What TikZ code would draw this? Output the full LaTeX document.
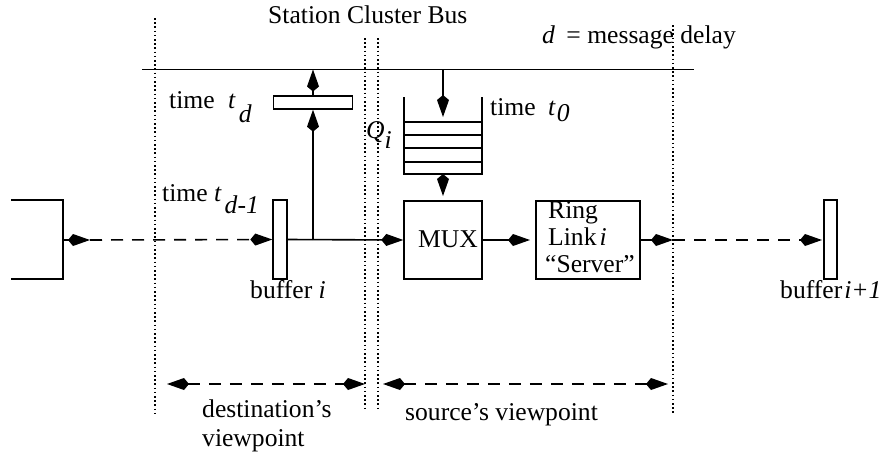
\documentclass[tikz,border=0pt]{standalone}
\usepackage{fontspec}
\setmainfont{Liberation Serif}
\usetikzlibrary{arrows.meta}
\begin{document}
\begin{tikzpicture}[x=1pt,y=-1pt,
  txt/.style={inner sep=0pt, anchor=base west, font=\fontsize{25.6}{29}\selectfont},
  boxs/.style={draw, line width=1.4pt, inner sep=0pt},
  wire/.style={line width=1.6pt},
  dashwire/.style={wire, dash pattern=on 12pt off 9pt},
  guide/.style={line width=1.1pt, dash pattern=on 1.6pt off 2.6pt},
  kt/.tip={Kite[length=22pt,width=12pt,inset=5pt]},
]
\useasboundingbox (0,0) rectangle (886,459);

% viewpoint boundaries
\draw[guide] (155,18) -- (155,415);
\draw[guide] (365,38) -- (365,408);
\draw[guide] (378,38) -- (378,408);
\draw[guide] (673,25) -- (673,415);

% station cluster bus
\coordinate (busL) at (142,69.5);
\coordinate (busR) at (694,69.5);
\draw[wire] (busL) -- (busR);
\node[txt] (scb) at (268,23) {Station Cluster Bus};
\node[txt] (dmd) at (542,43) {\textit{d}\kern5pt{} = message delay};

% upstream station (partly shown)
\draw[boxs] (11,200) -- (63,200) -- (63,279) -- (11,279);
\coordinate (lbout) at (63,240);
\coordinate (lbtip) at (90,240);

% buffers, delay register, MUX, ring link
\node[boxs, minimum width=14pt, minimum height=79pt] (bufi) at (280,239.5) {};
\node[boxs, minimum width=13pt, minimum height=79pt] (bufj) at (830.5,239.5) {};
\node[boxs, minimum width=79pt, minimum height=13pt] (tdbox) at (313,102.5) {};
\node[boxs, minimum width=78pt, minimum height=78pt] (mux) at (443,240) {};
\node[boxs, minimum width=104pt, minimum height=78pt] (ring) at (588,240) {};

% queue Q_i
\draw[boxs] (404,97) -- (404,174) -- (482,174) -- (482,97);
\foreach \yy in {122,135,148,162} \draw[line width=1.4pt] (404,\yy) -- (482,\yy);
\coordinate (qtop) at (443,69.5);
\coordinate (qin) at (443,117);
\coordinate (qbot) at (443,174);
\coordinate (qout) at (443,196);

% connectors
\coordinate (jn) at (313,240);
\coordinate (tdbus) at (313,69.5);
\coordinate (muxtip) at (530,240);
\coordinate (rtip) at (673,240);
\coordinate (bjtip) at (822,240);
\draw[wire,-kt] (lbout) -- (lbtip);
\draw[dashwire,-kt] (lbtip) -- (bufi.west);
\draw[wire,-kt] (bufi.east) -- (mux.west);
\draw[wire,-kt] (jn) -- (tdbox.south);
\draw[wire,-kt] (tdbox.north) -- (tdbus);
\draw[wire,-kt] (qtop) -- (qin);
\draw[wire,-kt] (qbot) -- (qout);
\draw[wire,-kt] (mux.east) -- (muxtip);
\draw[wire,-kt] (ring.east) -- (rtip);
\draw[dashwire,-kt] (rtip) -- (bjtip);

% labels
\node[txt] (ltd) at (169,108) {time\hspace{13.5pt}\textit{t}\kern3pt\raisebox{-14pt}{\textit{d}}};
\node[txt] (ltd1) at (162,201) {time \textit{t}\kern3pt\raisebox{-12pt}{\textit{d-1}}};
\node[txt] (lq) at (366,138) {\textit{Q}\raisebox{-10pt}{\textit{i}}};
\node[txt] (lt0) at (490,115) {time\hspace{12.5pt}\textit{t}\kern1pt\raisebox{-6pt}{\textit{0}}};
\node[txt] (lmux) at (418,247) {MUX};
\node[txt] (lr1) at (548,218) {Ring};
\node[txt] (lr2) at (548,245) {Link\kern3pt\textit{i}};
\node[txt] (lr3) at (545,272) {“Server”};
\node[txt] (lbi) at (250,298) {buffer \textit{i}};
\node[txt] (lbj) at (780,298) {buffer\kern2pt\textit{i+1}};

% viewpoints
\coordinate (dvl) at (167,384);
\coordinate (dvr) at (365,384);
\coordinate (svl) at (383,384);
\coordinate (svr) at (668,384);
\draw[dashwire,kt-kt] (dvl) -- (dvr);
\draw[dashwire,kt-kt] (svl) -- (svr);
\node[txt] (ldv1) at (202,417) {destination’s};
\node[txt] (ldv2) at (202,446) {viewpoint};
\node[txt] (lsv) at (405,420) {source’s viewpoint};
\end{tikzpicture}
\end{document}
